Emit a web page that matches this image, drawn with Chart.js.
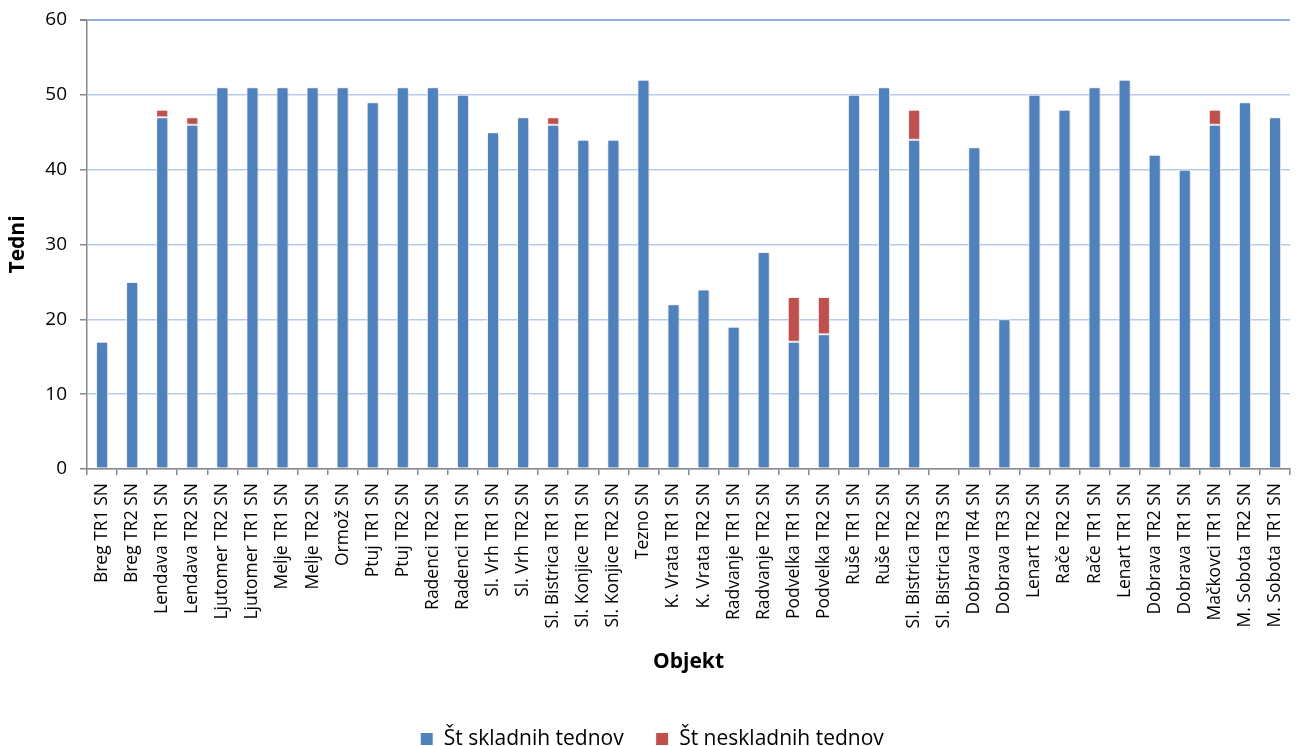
<!DOCTYPE html>
<html>
<head>
<meta charset="utf-8">
<script src="https://cdn.jsdelivr.net/npm/chart.js@4/dist/chart.umd.min.js"></script>
<style>
html,body{margin:0;padding:0;background:#fff;}
#wrap{width:1304px;height:746px;}
</style>
</head>
<body>
<div id="wrap"><canvas id="c" width="1304" height="746"></canvas></div>
<script>
const categories = ["Breg TR1 SN","Breg TR2 SN","Lendava TR1 SN","Lendava TR2 SN","Ljutomer TR2 SN","Ljutomer TR1 SN","Melje TR1 SN","Melje TR2 SN","Ormož SN","Ptuj TR1 SN","Ptuj TR2 SN","Radenci TR2 SN","Radenci TR1 SN","Sl. Vrh TR1 SN","Sl. Vrh TR2 SN","Sl. Bistrica TR1 SN","Sl. Konjice TR1 SN","Sl. Konjice TR2 SN","Tezno SN","K. Vrata TR1 SN","K. Vrata TR2 SN","Radvanje TR1 SN","Radvanje TR2 SN","Podvelka TR1 SN","Podvelka TR2 SN","Ruše TR1 SN","Ruše TR2 SN","Sl. Bistrica TR2 SN","Sl. Bistrica TR3 SN","Dobrava TR4 SN","Dobrava TR3 SN","Lenart TR2 SN","Rače TR2 SN","Rače TR1 SN","Lenart TR1 SN","Dobrava TR2 SN","Dobrava TR1 SN","Mačkovci TR1 SN","M. Sobota TR2 SN","M. Sobota TR1 SN"];
const skladni = [17,25,47,46,51,51,51,51,51,49,51,51,50,45,47,46,44,44,52,22,24,19,29,17,18,50,51,44,0,43,20,50,48,51,52,42,40,46,49,47];
const neskladni = [0,0,1,1,0,0,0,0,0,0,0,0,0,0,0,1,0,0,0,0,0,0,0,6,5,0,0,4,0,0,0,0,0,0,0,0,0,2,0,0];
const seriesNames = ["Št skladnih tednov","Št neskladnih tednov"];
const yTicks = [0,10,20,30,40,50,60];

const FONT = "'Open Sans', 'Noto Sans', sans-serif";
const shadowPlugin = {
  id:'shadow',
  beforeDatasetsDraw(chart){ const c=chart.ctx; c.save(); c.shadowColor='rgba(0,0,0,0.22)'; c.shadowBlur=4; c.shadowOffsetX=1; c.shadowOffsetY=1; },
  afterDatasetsDraw(chart){ chart.ctx.restore(); }
};

new Chart(document.getElementById('c'), {
  type:'bar',
  data:{
    labels:categories,
    datasets:[
      {label:seriesNames[0], data:skladni, backgroundColor:'#4F81BD', borderColor:'#ffffff', borderWidth:1, borderSkipped:false, barPercentage:0.4, categoryPercentage:1},
      {label:seriesNames[1], data:neskladni, backgroundColor:'#C0504D', borderColor:'#ffffff', borderWidth:1, borderSkipped:false, barPercentage:0.4, categoryPercentage:1}
    ]
  },
  plugins:[shadowPlugin],
  options:{
    responsive:false,
    animation:false,
    layout:{padding:{top:20,right:0,left:0,bottom:-13.5}},
    plugins:{
      legend:{position:'bottom', labels:{font:{family:FONT,size:21}, color:'#000', boxWidth:13, boxHeight:13, padding:32}},
      tooltip:{enabled:false}
    },
    scales:{
      x:{
        stacked:true,
        offset:true,
        afterFit(s){ s.height = 227.5; },
        grid:{display:true, drawOnChartArea:false, offset:true, tickLength:6, tickColor:'#888', lineWidth:1.5},
        border:{color:'#888', width:1.5},
        ticks:{autoSkip:false, minRotation:90, maxRotation:90, color:'#000', font:{family:FONT,size:17.5}, padding:8},
        title:{display:true, text:'Objekt', color:'#000', font:{family:FONT,size:21,weight:'bold'}, padding:{top:8,bottom:22}}
      },
      y:{
        stacked:true,
        min:0, max:60,
        afterBuildTicks(s){ s.ticks = yTicks.map(v=>({value:v})); },
        afterFit(s){ s.width = 87; s.paddingTop = 0; },
        grid:{color:(ctx)=> ctx.tick && ctx.tick.value===60 ? '#8EB0E4' : '#B7CBEB', lineWidth:(ctx)=> ctx.tick && ctx.tick.value===60 ? 2 : 1.5, tickLength:7, tickColor:'#888'},
        border:{color:'#888', width:1.5},
        ticks:{color:'#000', font:{family:FONT,size:19}, padding:13},
        title:{display:true, text:'Tedni', color:'#000', font:{family:FONT,size:21,weight:'bold'}, padding:{top:5,bottom:0}}
      }
    }
  }
});
</script>
</body>
</html>
